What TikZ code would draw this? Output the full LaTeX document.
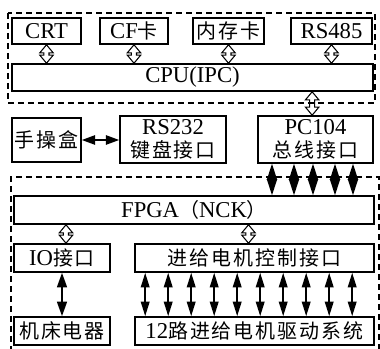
\documentclass[tikz,border=0pt]{standalone}
\usepackage{fontspec}
\setmainfont{Liberation Serif}
\newfontfamily\cjk[LetterSpace=10, Scale=0.88]{Noto Sans CJK SC}
\usetikzlibrary{arrows.meta, calc}

\begin{document}
\begin{tikzpicture}[x=0.75pt, y=-0.75pt,
	every node/.style={font=\fontsize{17}{17}\selectfont, inner sep=0pt, align=center},
	box/.style 2 args={draw, line width=1.2pt, minimum width=#1*0.75pt, minimum height=#2*0.75pt},
	frame/.style={line width=1.1pt, dash pattern=on 4.5pt off 3pt},
	hollow/.style={line width=0.8pt, to path={let \p1=(\tikztostart), \p2=(\tikztotarget) in
		(\x1,\y1) -- (\x1+5pt,\y1-6pt) -- (\x1+1.9pt,\y1-6pt) -- (\x1+1.9pt,\y2+6pt) -- (\x1+5pt,\y2+6pt)
		-- (\x1,\y2) -- (\x1-5pt,\y2+6pt) -- (\x1-1.9pt,\y2+6pt) -- (\x1-1.9pt,\y1-6pt) -- (\x1-5pt,\y1-6pt) -- cycle}},
	busarrow/.style={line width=1.3pt, <->, >={Triangle[length=11pt,width=6.5pt]}},
	ioarrow/.style={line width=1.3pt, <->, >={Triangle[length=11pt,width=7.5pt]}},
	diamarrow/.style={line width=1.3pt, <->, >={Triangle[length=12pt,width=7.5pt]}},
	handarrow/.style={line width=1.3pt, <->, >={Triangle[length=10pt,width=7pt]}}]
	\useasboundingbox (0,0) rectangle (380,349);
	
	% upper part: IPC
	\draw[frame] (8,13) rectangle (375,103);
	\node[box={69}{26}] (crt) at (46.5,31) {CRT};
	\node[box={68}{26}] (cf) at (134,31) {CF{\cjk 卡}};
	\node[box={71}{26}] (mem) at (228.5,31) {\cjk 内存卡};
	\node[box={81}{26}] (rs485) at (331.5,31) {RS485};
	\node[box={361}{27}] (cpu) at (192.5,77.5) {CPU(IPC)};
%
	\draw[hollow] (crt.south) to (crt.south |- cpu.north);
	\draw[hollow] (cf.south) to (cf.south |- cpu.north);
	\draw[hollow] (mem.south) to (mem.south |- cpu.north);
	\draw[hollow] (rs485.south) to (rs485.south |- cpu.north);
	
	% interfaces
	\node[box={69}{44}] (hand) at (46.5,140) {\cjk 手操盒};
	\node[box={106}{47}] (rs232) at (173,139.5) {RS232\\{\cjk 键盘接口}};
	\node[box={115}{47}] (pc104) at (315.5,139.5) {PC104\\{\cjk 总线接口}};
%
	\draw[handarrow] (hand.east) -- (hand.east -| rs232.west);
	\draw[hollow] ([xshift=-2.5pt]cpu.south -| pc104.north) to ([xshift=-2.5pt]pc104.north);
	
	% lower part: NCK
	\draw[frame] (11,352) -- (11,177) -- (379,177) -- (379,352);
	\node[box={360}{28}] (fpga) at (194,210) {FPGA{\cjk （}NCK{\cjk ）}};
	\node[box={96}{28}] (io) at (62,258) {IO{\cjk 接口}};
	\node[box={239}{28}] (feed) at (254.5,258) {\cjk 进给电机控制接口};
	\node[box={96}{28}] (mach) at (62,331) {\cjk 机床电器};
	\node[box={239}{28}] (drive) at (254.5,331) {12{\cjk 路进给电机驱动系统}};
%
	\foreach \xx in {272,294,313,335,353}
		\draw[diamarrow] (pc104.south -| \xx,0) -- (fpga.north -| \xx,0);
	\draw[hollow] ([xshift=3pt]fpga.south -| io.north) to ([xshift=3pt]io.north);
	\draw[hollow] ([xshift=-4.5pt]fpga.south -| feed.north) to ([xshift=-4.5pt]feed.north);
	\draw[ioarrow] (io.south) -- (mach.north);
	\foreach \i in {0,...,9}
		\draw[busarrow] ($(feed.south west)+(11+23*\i,0)$) -- ($(drive.north west)+(11+23*\i,0)$);
\end{tikzpicture}
\end{document}
